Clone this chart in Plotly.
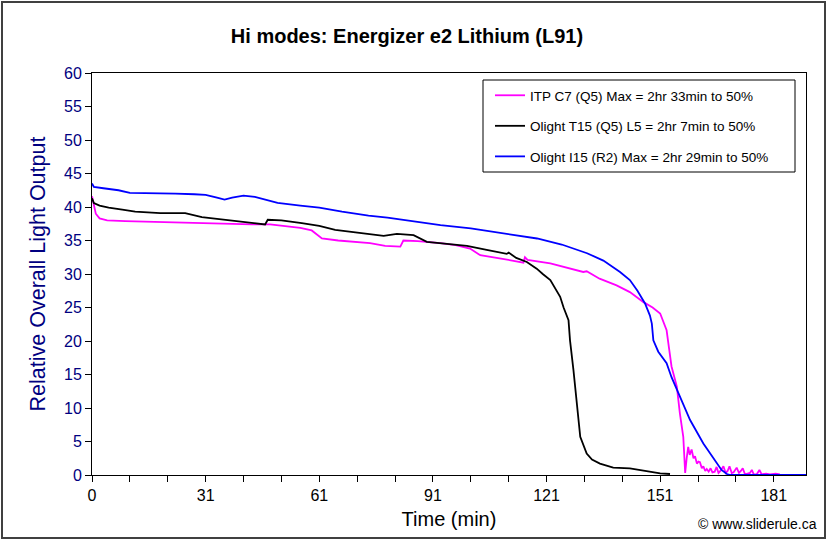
import plotly.graph_objects as go

# ---- data ----
itp_t = [0, 0.5, 1, 2, 4, 8.8, 15, 24.6, 33, 42.2, 47, 51, 55, 58, 60.7, 65, 73.4, 77.4, 81.4, 82.2,
         86, 92, 96, 99.8, 102.5, 108, 113.9, 114.3, 115, 121, 125, 129.7, 130.6, 134, 138.5, 142,
         145.6, 148, 150, 151.7, 152.3, 153, 154.4, 155.2, 156.1, 156.6, 157.0, 157.4, 157.8, 158.3,
         158.8, 159.2, 159.7, 160.1, 160.5, 161.0, 161.4, 161.9, 162.3, 162.8, 163.3, 163.8, 164.4,
         164.9, 165.4, 165.9, 166.7, 167.3, 167.8, 168.3, 168.9, 169.4, 170.2, 170.8, 171.3, 171.8,
         172.4, 173.0, 173.7, 174.2, 174.7, 175.5, 176.2, 176.8, 178, 179, 180.5, 181.6]
itp_v = [41.6, 40.0, 39.0, 38.3, 38.0, 37.9, 37.8, 37.7, 37.6, 37.4, 37.4, 37.2, 36.9, 36.5, 35.3,
         35.0, 34.6, 34.2, 34.1, 35.0, 34.9, 34.6, 34.3, 33.8, 32.8, 32.3, 31.7, 32.5, 32.1, 31.6,
         31.0, 30.3, 30.4, 29.3, 28.3, 27.3, 25.8, 25.0, 24.1, 21.6, 19.1, 16.2, 13.2, 9.2, 5.7, 0.3,
         2.5, 4.2, 3.0, 3.8, 2.5, 2.8, 1.7, 2.0, 1.9, 1.0, 1.3, 0.6, 0.9, 0.5, 1.0, 0.4, 0.5, 1.2, 0.3,
         0.6, 1.3, 0.3, 0.6, 1.3, 0.3, 0.4, 1.1, 0.3, 0.6, 1.0, 0.1, 0.2, 0.3, 0.75, 0.1, 0.1, 0.75,
         0.1, 0.2, 0.1, 0.2, 0.1]

t15_t = [0, 0.5, 2, 4.4, 8, 11.4, 18, 24.6, 29, 35, 40, 45.7, 46.4, 50, 55.4, 60, 64.2, 70, 73.4, 77,
         80.5, 84.9, 88.4, 93, 99, 104.2, 109.5, 110, 112, 114.8, 117.4, 119, 121, 123.6, 124.5, 125.8,
         126.2, 127.1, 128, 128.9, 130.6, 132, 134.1, 137.6, 142, 144, 146.5, 150, 152.6]
t15_v = [41.3, 40.6, 40.2, 39.9, 39.6, 39.3, 39.1, 39.1, 38.5, 38.1, 37.8, 37.4, 38.1, 38.0, 37.6,
         37.2, 36.6, 36.2, 36.0, 35.7, 36.0, 35.8, 34.8, 34.5, 34.2, 33.6, 33.0, 33.2, 32.4, 31.8,
         30.8, 30.0, 29.1, 26.6, 25.0, 23.1, 20.1, 15.7, 10.2, 5.7, 3.2, 2.3, 1.7, 1.1, 1.0, 0.8, 0.5,
         0.25, 0.15]

i15_t = [0, 0.5, 3, 7, 10, 14, 17, 22, 27, 30, 33, 35, 37, 40, 43, 46, 49, 55, 60, 66, 73, 78, 85,
         92, 100, 108, 117.5, 124, 130.7, 135, 139.4, 142, 144, 146, 147.3, 147.8, 148.2, 149.5,
         151.7, 153, 154.4, 157.9, 161.4, 164, 166.2, 167.6, 168.5, 188.5]
i15_v = [43.5, 43.0, 42.8, 42.5, 42.1, 42.1, 42.1, 42.0, 41.9, 41.8, 41.4, 41.1, 41.4, 41.7, 41.5,
         41.0, 40.6, 40.2, 39.9, 39.3, 38.7, 38.4, 37.8, 37.3, 36.8, 36.1, 35.3, 34.4, 33.1, 32.0,
         30.3, 29.1, 27.5, 25.6, 23.8, 22.6, 20.1, 18.4, 16.7, 14.6, 12.7, 8.2, 4.7, 2.5, 0.75, 0.15,
         0, 0]

series_names = ["ITP C7 (Q5) Max = 2hr 33min to 50%",
                "Olight T15 (Q5) L5 = 2hr 7min to 50%",
                "Olight I15 (R2) Max = 2hr 29min to 50%"]
series_colors = ["#FF00FF", "#000000", "#0000FF"]

x_tick_vals = list(range(0, 190, 10))
x_tick_labels = ["0", "", "", "31", "", "", "61", "", "", "91", "", "", "121", "", "", "151", "", "", "181"]

FONT = "Liberation Sans, Arial, sans-serif"
NAVY = "#000080"

# pixel -> paper helpers (plot area: x 92..806, y 73..475)
def px(xp):
    return (xp - 92) / 714

def py(yp):
    return (475 - yp) / 402

fig = go.Figure()
for i, (t, v) in enumerate([(itp_t, itp_v), (t15_t, t15_v), (i15_t, i15_v)]):
    fig.add_trace(go.Scatter(x=t, y=v, mode="lines", name=series_names[i],
                             legendgroup=str(i),
                             line=dict(color=series_colors[i], width=1.8)))

fig.update_layout(
    width=829, height=543,
    margin=dict(l=92, r=23, t=73, b=68),
    paper_bgcolor="white", plot_bgcolor="white",
    font=dict(family=FONT, color="black"),
    title=dict(text="Hi modes: Energizer e2 Lithium (L91)", x=407/829, xanchor="center",
               y=1 - 36/543, yanchor="middle",
               font=dict(size=20, weight="bold", color="black", family=FONT)),
    showlegend=True,
    legend=dict(x=px(490), y=py(80), xanchor="left", yanchor="top",
                bgcolor="rgba(0,0,0,0)", borderwidth=0,
                font=dict(size=13.5, color="black", family=FONT),
                tracegroupgap=10, traceorder="grouped"),
    xaxis=dict(range=[0, 188.5], tickmode="array", tickvals=x_tick_vals, ticktext=x_tick_labels,
               ticks="outside", ticklen=6, tickcolor="black", showgrid=False, zeroline=False,
               showline=True, linecolor="black", linewidth=1, mirror=True,
               tickfont=dict(size=16, color="black", family=FONT),
               title=dict(text="Time (min)", font=dict(size=20, color="black", family=FONT), standoff=8)),
    yaxis=dict(range=[0, 60], dtick=5, ticks="outside", ticklen=6, tickcolor="black",
               showgrid=False, zeroline=False, showline=True, linecolor="black", linewidth=1,
               mirror=True,
               tickfont=dict(size=16, color=NAVY, family=FONT),
               title=dict(text="Relative Overall Light Output", font=dict(size=21.5, color=NAVY, family=FONT),
                          standoff=12)),
)

# legend frame
fig.add_shape(type="rect", xref="paper", yref="paper",
              x0=px(483), x1=px(795), y0=py(172), y1=py(80),
              line=dict(color="black", width=1), fillcolor="white", layer="below")

# outer chart border
fig.add_shape(type="rect", xref="paper", yref="paper",
              x0=px(2), x1=px(825), y0=py(538), y1=py(2),
              line=dict(color="#404040", width=2), layer="below")

fig.add_annotation(text="© www.sliderule.ca", xref="paper", yref="paper",
                   x=px(819), y=py(524), xanchor="right", yanchor="middle",
                   showarrow=False, font=dict(size=14, color="black", family=FONT))

fig.write_html("out.html", config={"displayModeBar": False},
               post_script="document.body.style.margin='0';document.body.style.overflow='hidden';")
